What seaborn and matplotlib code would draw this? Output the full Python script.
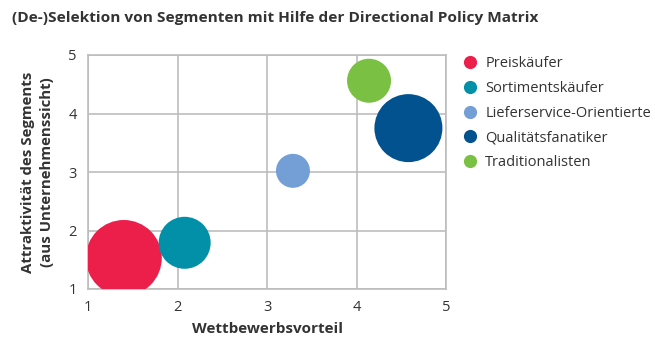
import matplotlib
matplotlib.use("Agg")
import matplotlib.pyplot as plt
import seaborn as sns
import pandas as pd
from matplotlib.lines import Line2D

segments = ["Preiskäufer", "Sortimentskäufer", "Lieferservice-Orientierte",
            "Qualitätsfanatiker", "Traditionalisten"]
wettbewerbsvorteil = [1.40, 2.08, 3.29, 4.58, 4.14]
attraktivitaet = [1.53, 1.79, 3.02, 3.75, 4.56]
segmentgroesse = [1444, 676, 289, 1156, 484]
colors = ["#EC1F4B", "#0190A8", "#739FD6", "#02528F", "#7AC043"]
ticks = [1, 2, 3, 4, 5]

df = pd.DataFrame({"Segment": segments, "x": wettbewerbsvorteil,
                   "y": attraktivitaet, "size": segmentgroesse})

sns.set_style("white")
plt.rcParams["font.family"] = ["Open Sans", "DejaVu Sans"]

fig = plt.figure(figsize=(6.55, 3.56), dpi=100)
ax = fig.add_axes([88/655, 1-289/356, (446-88)/655, (289-55)/356])

sns.scatterplot(data=df, x="x", y="y", hue="Segment", palette=colors,
                size="size", sizes=(599, 2994), size_norm=(289, 1444),
                linewidth=0, alpha=1, legend=False, ax=ax, zorder=3)

grid_c = "#BDBDBD"
ax.set_xlim(1, 5)
ax.set_ylim(1, 5)
ax.set_xticks(ticks)
ax.set_yticks(ticks)
ax.grid(True, color=grid_c, linewidth=1.2, zorder=0)
ax.set_axisbelow(True)
for s in ax.spines.values():
    s.set_color(grid_c)
    s.set_linewidth(1.2)
ax.tick_params(axis="both", colors=grid_c, length=5, width=1.2,
               labelcolor="#333333", labelsize=10.5, pad=3)
for c in ax.collections:
    c.set_clip_on(True)

ax.set_xlabel("Wettbewerbsvorteil", fontsize=11, fontweight="bold",
              color="#333333", labelpad=5)
ax.set_ylabel("Attraktivität des Segments\n(aus Unternehmenssicht)",
              fontsize=10.8, fontweight="bold", color="#333333",
              labelpad=10, linespacing=1.5)

fig.text(12/655, 1-18/356, "(De-)Selektion von Segmenten mit Hilfe der Directional Policy Matrix",
         fontsize=11.1, fontweight="bold", color="#333333", va="center", ha="left")

handles = [Line2D([0], [0], marker="o", linestyle="", markersize=9.5,
                  markerfacecolor=c, markeredgewidth=0) for c in colors]
fig.legend(handles, segments, loc="upper left",
           bbox_to_anchor=(456/655, 1-50/356), frameon=False,
           fontsize=10.5, labelspacing=0.68, handletextpad=0.5,
           handlelength=1.1, labelcolor="#333333", borderaxespad=0)

fig.savefig("out.png", dpi=100)
